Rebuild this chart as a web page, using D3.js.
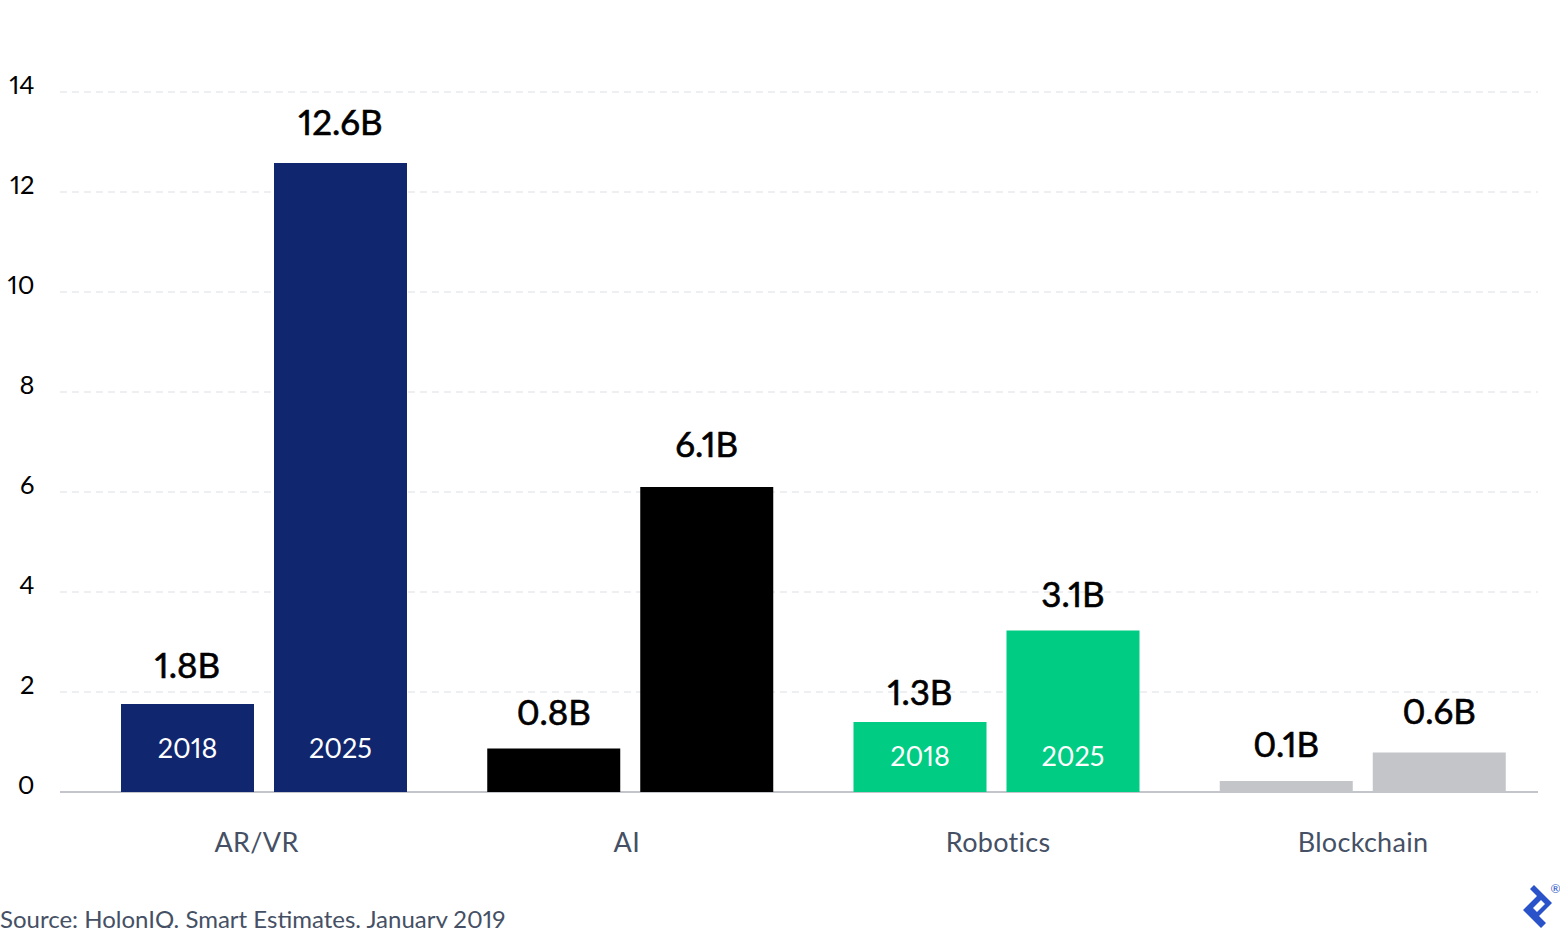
<!DOCTYPE html>
<html><head><meta charset="utf-8">
<script src="https://d3js.org/d3.v7.min.js"></script>
<style>html,body{margin:0;padding:0;background:#fff;overflow:hidden}svg{display:block}text{font-family:Lato,sans-serif;font-variant-numeric:proportional-nums}</style>
</head><body><svg id="c" width="1560" height="928"></svg>
<script>
const categories=["AR/VR","AI","Robotics","Blockchain"];
const years=["2018","2025"];
const values2018=[1.76,0.87,1.4,0.22];
const values2025=[12.58,6.1,3.23,0.79];
const labels2018=["1.8B","0.8B","1.3B","0.1B"];
const labels2025=["12.6B","6.1B","3.1B","0.6B"];
const colors=["#10266e","#000000","#00cc83","#c3c5c9"];
const showYears=[true,false,true,false];
const yTicks=[0,2,4,6,8,10,12,14];
const source="Source: HolonIQ. Smart Estimates. January 2019";

// layout (pixels, separate from the data)
const gap2018=[26,24,17,24], gap2025=[28,30,24,29], yearRise=[34,0,26,0], catNudge=[0,1.5,4,0];

const svg=d3.select("#c");
const y=d3.scaleLinear().domain([0,14]).range([792,92]);
const x0=d3.scaleBand().domain(categories).range([81,1546]);
const x1=d3.scaleBand().domain(years).range([30,336]);
const barW=133;
const xLab=d3.scalePoint().domain(categories).range([256.5,1363]);

svg.append("g").selectAll("line").data(yTicks.filter(d=>d>0)).join("line")
 .attr("x1",60).attr("x2",1538).attr("y1",d=>y(d)).attr("y2",d=>y(d))
 .attr("stroke","#eeeff0").attr("stroke-width",2).attr("stroke-dasharray","7 5");
svg.append("line").attr("x1",60).attr("x2",1538).attr("y1",y(0)).attr("y2",y(0))
 .attr("stroke","#c3c5cc").attr("stroke-width",2);

svg.append("g").selectAll("text").data(yTicks).join("text")
 .attr("x",34.5).attr("y",d=>y(d)+2).attr("text-anchor","end")
 .attr("font-size",25.5).attr("fill","#000").text(d=>d);

const rows=categories.flatMap((c,i)=>[
 {c,i,yr:years[0],v:values2018[i],l:labels2018[i],g:gap2018[i]},
 {c,i,yr:years[1],v:values2025[i],l:labels2025[i],g:gap2025[i]}]);
const bx=d=>x0(d.c)+x1(d.yr)+(x1.bandwidth()-barW)/2;
svg.append("g").selectAll("rect").data(rows).join("rect")
 .attr("x",bx).attr("width",barW).attr("y",d=>y(d.v)).attr("height",d=>y(0)-y(d.v))
 .attr("fill",d=>colors[d.i]);
svg.append("g").selectAll("text").data(rows).join("text")
 .attr("x",d=>bx(d)+barW/2).attr("y",d=>y(d.v)-d.g).attr("text-anchor","middle")
 .attr("font-size",35).attr("fill","#000").attr("stroke","#000").attr("stroke-width",0.6).text(d=>d.l);
svg.append("g").selectAll("text").data(rows.filter(d=>showYears[d.i])).join("text")
 .attr("x",d=>bx(d)+barW/2).attr("y",d=>y(0)-yearRise[d.i]).attr("text-anchor","middle")
 .attr("font-size",27).attr("fill","#fff").text(d=>d.yr);
svg.append("g").selectAll("text").data(categories).join("text")
 .attr("x",(d,i)=>xLab(d)+catNudge[i]).attr("y",852).attr("text-anchor","middle")
 .attr("font-size",27).attr("letter-spacing",0.3).attr("fill","#455065").text(d=>d);
svg.append("text").attr("x",0).attr("y",928).attr("font-size",24).attr("fill","#455065").text(source);

// logo
const logo=svg.append("g");
logo.append("path").attr("fill","#2a52c9").attr("fill-rule","evenodd")
 .attr("d","M1534 885 L1552 903 L1539 916 L1546 923 L1541 928 L1523 910 L1537 896 L1530 889 Z M1533 908 L1541 900 L1545 904 L1537 912 Z");
logo.append("text").attr("x",1555.5).attr("y",893).attr("text-anchor","middle").attr("font-size",12).attr("fill","#2a52c9").text("®");
</script></body></html>
